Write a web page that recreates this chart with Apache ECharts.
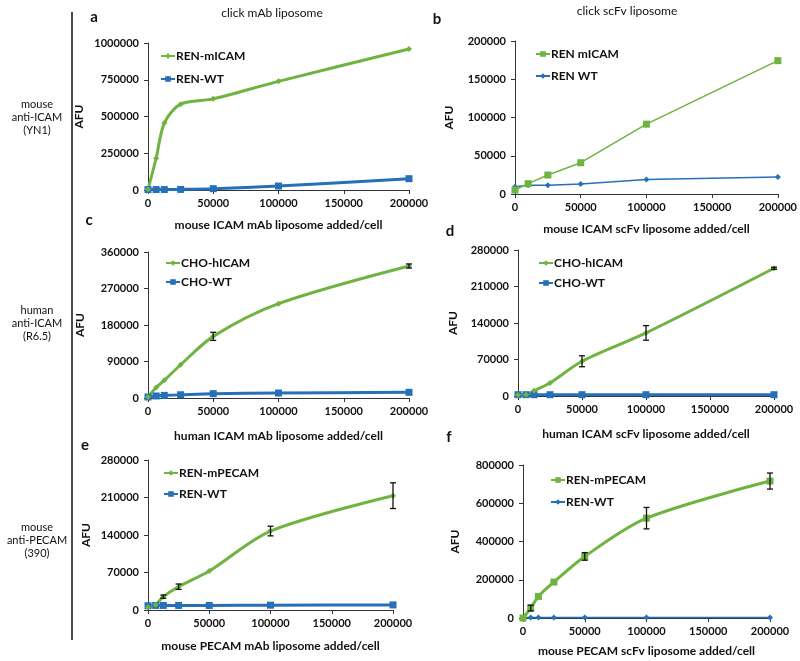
<!DOCTYPE html>
<html>
<head>
<meta charset="utf-8">
<script src="https://cdn.jsdelivr.net/npm/echarts@6/dist/echarts.min.js"></script>
<style>
  html, body { margin: 0; padding: 0; background: #fff; }
  #chart { width: 800px; height: 661px; }
</style>
</head>
<body>
<div id="chart"></div>
<script>
// liposome doses added per cell
const doseB = [0, 10000, 25000, 50000, 100000, 200000]
const doseAll = [0, 6250, 12500, 25000, 50000, 100000, 200000]

// a: click mAb, mouse ICAM
const aGreen = [5000, 216000, 455000, 584000, 620000, 739000, 959000]
const aBlue = [3000, 3000, 3000, 4000, 9000, 27000, 77000]
// b: click scFv, mouse ICAM
const bGreen = [5200, 13500, 24800, 40900, 91300, 174300]
const bBlue = [9600, 11300, 11300, 13000, 19100, 22200]
// c: human ICAM mAb
const cGreen = [2500, 26000, 43500, 82000, 152000, 232600, 325500]
const cGreenErr = [0, 0, 0, 0, 10000, 0, 5000]
const cBlue = [2500, 5000, 6500, 8000, 10700, 12300, 14000]
// d: human ICAM scFv
const dGreen = [2000, 2500, 10000, 25000, 66600, 121000, 245000]
const dGreenErr = [0, 0, 0, 0, 10500, 14000, 2000]
const dBlue = [2500, 2500, 2500, 2500, 2500, 2500, 2500]
// e: mouse PECAM mAb
const eGreen = [5000, 10000, 24900, 43500, 72800, 147400, 213400]
const eGreenErr = [0, 0, 3000, 5000, 0, 9000, 24000]
const eBlue = [8000, 8500, 8500, 8500, 8500, 9000, 9500]
// f: mouse PECAM scFv
const fGreen = [0, 52000, 113000, 188000, 322000, 522000, 716000]
const fGreenErr = [0, 15000, 0, 0, 20000, 56000, 42000]
const fBlue = [2000, 2000, 2000, 2000, 2000, 2000, 2000]

const green = '#6fb340'
const blue = '#2670b8'
const font = 'Lato'

const panels = [
  { key: 'a', x: doseAll, g: aGreen, b: aBlue, gName: 'REN-mICAM', bName: 'REN-WT', gSym: 'diamond', bSym: 'rect', gW: 3, bW: 3, smooth: true,
    grid: [148, 43, 409, 190], yMax: 1000000, yInt: 250000, xName: 'mouse ICAM mAb liposome added/cell', xGap: 29, yGap: 63, leg: [155, 45, 11] },
  { key: 'b', x: doseB, g: bGreen, b: bBlue, gName: 'REN mICAM', bName: 'REN WT', gSym: 'rect', bSym: 'diamond', gW: 1.5, bW: 1.5, smooth: false,
    grid: [515, 41, 779, 194], yMax: 200000, yInt: 50000, xName: 'mouse ICAM scFv liposome added/cell', xGap: 29, yGap: 60, leg: [530, 43, 10] },
  { key: 'c', x: doseAll, g: cGreen, ge: cGreenErr, b: cBlue, gName: 'CHO-hICAM', bName: 'CHO-WT', gSym: 'diamond', bSym: 'rect', gW: 3, bW: 3, smooth: true,
    grid: [148, 252, 409, 398], yMax: 360000, yInt: 90000, xName: 'human ICAM mAb liposome added/cell', xGap: 32, yGap: 62, leg: [160, 252, 7] },
  { key: 'd', x: doseAll, g: dGreen, ge: dGreenErr, b: dBlue, gName: 'CHO-hICAM', bName: 'CHO-WT', gSym: 'diamond', bSym: 'rect', gW: 3, bW: 3, smooth: true,
    grid: [518, 250, 774, 396], yMax: 280000, yInt: 70000, xName: 'human ICAM scFv liposome added/cell', xGap: 32, yGap: 59, leg: [533, 252, 8] },
  { key: 'e', x: doseAll, g: eGreen, ge: eGreenErr, b: eBlue, gName: 'REN-mPECAM', bName: 'REN-WT', gSym: 'diamond', bSym: 'rect', gW: 3, bW: 3, smooth: true,
    grid: [148, 460, 393, 610], yMax: 280000, yInt: 70000, xName: 'mouse PECAM mAb liposome added/cell', xGap: 30, yGap: 56, leg: [158, 462, 9] },
  { key: 'f', x: doseAll, g: fGreen, ge: fGreenErr, b: fBlue, gName: 'REN-mPECAM', bName: 'REN-WT', gSym: 'rect', bSym: 'diamond', gW: 3, bW: 1.5, smooth: true,
    grid: [523, 465, 770, 618], yMax: 800000, yInt: 200000, xName: 'mouse PECAM scFv liposome added/cell', xGap: 27, yGap: 62, leg: [545, 469, 10] }
]

function renderErr(params, api) {
  const x = api.value(0)
  const top = api.coord([x, api.value(2)])
  const bot = api.coord([x, api.value(1)])
  const s = { stroke: '#111', lineWidth: 1.3 }
  return {
    type: 'group',
    children: [
      { type: 'line', shape: { x1: top[0], y1: top[1], x2: bot[0], y2: bot[1] }, style: s },
      { type: 'line', shape: { x1: top[0] - 3, y1: top[1], x2: top[0] + 3, y2: top[1] }, style: s },
      { type: 'line', shape: { x1: bot[0] - 3, y1: bot[1], x2: bot[0] + 3, y2: bot[1] }, style: s }
    ]
  }
}

const axisLine = { lineStyle: { color: '#333', width: 1 } }
const labelStyle = { color: '#111', fontFamily: font, fontWeight: 'bold', fontSize: 11, formatter: v => String(v) }
const nameStyle = { color: '#111', fontFamily: font, fontWeight: 'bold', fontSize: 12 }

const grid = []
const xAxis = []
const yAxis = []
const legend = []
const series = []

panels.forEach((p, i) => {
  // series names carry the panel key so each legend finds its own symbols
  const gKey = p.key + '|' + p.gName
  const bKey = p.key + '|' + p.bName
  grid.push({ left: p.grid[0], top: p.grid[1], width: p.grid[2] - p.grid[0], height: p.grid[3] - p.grid[1] })
  xAxis.push({
    type: 'value', gridIndex: i, min: 0, max: 200000, interval: 50000,
    axisLine: { show: true, ...axisLine }, axisTick: { show: true, length: 4, lineStyle: { color: '#333' } },
    splitLine: { show: false }, axisLabel: { ...labelStyle, margin: 8 },
    name: p.xName, nameLocation: 'middle', nameGap: p.xGap, nameTextStyle: nameStyle
  })
  yAxis.push({
    type: 'value', gridIndex: i, min: 0, max: p.yMax, interval: p.yInt,
    axisLine: { show: true, ...axisLine }, axisTick: { show: true, length: 4, lineStyle: { color: '#333' } },
    splitLine: { show: false }, axisLabel: { ...labelStyle, margin: 9 },
    name: 'AFU', nameLocation: 'middle', nameGap: p.yGap, nameRotate: 90, nameTextStyle: nameStyle
  })
  legend.push({
    orient: 'vertical', left: p.leg[0], top: p.leg[1], itemGap: p.leg[2],
    itemWidth: 14, itemHeight: 7, data: [gKey, bKey],
    formatter: n => n.split('|')[1],
    textStyle: { color: '#111', fontFamily: font, fontWeight: 'bold', fontSize: 12, padding: [0, 0, 0, -4] },
    selectedMode: false
  })
  const gData = p.x.map((v, k) => [v, p.g[k]])
  const bData = p.x.map((v, k) => [v, p.b[k]])
  series.push({
    name: bKey, type: 'line', xAxisIndex: i, yAxisIndex: i, data: bData, smooth: p.smooth ? 0.3 : false,
    symbol: p.bSym, symbolSize: p.bSym === 'rect' ? 7 : 6,
    lineStyle: { color: blue, width: p.bW }, itemStyle: { color: blue }, animation: false
  })
  series.push({
    name: gKey, type: 'line', xAxisIndex: i, yAxisIndex: i, data: gData, smooth: p.smooth ? 0.3 : false,
    symbol: p.gSym, symbolSize: p.gSym === 'rect' ? 7 : 6,
    lineStyle: { color: green, width: p.gW }, itemStyle: { color: green }, animation: false
  })
  if (p.ge) {
    const eData = p.x.map((v, k) => [v, p.g[k] - p.ge[k], p.g[k] + p.ge[k]]).filter((d, k) => p.ge[k] > 0)
    series.push({
      type: 'custom', xAxisIndex: i, yAxisIndex: i, data: eData, renderItem: renderErr,
      encode: { x: 0, y: [1, 2] }, z: 5, animation: false, silent: true
    })
  }
})

const txt = (x, y, text, opts) => ({
  type: 'text', x, y,
  style: { text, fill: '#111', fontFamily: font, fontSize: 11, align: 'center', verticalAlign: 'middle', ...opts }
})

const graphic = [
  { type: 'line', shape: { x1: 72, y1: 12, x2: 72, y2: 640 }, style: { stroke: '#111', lineWidth: 1.5 } },
  txt(272, 13, 'click mAb liposome', { fontSize: 12 }),
  txt(627, 11, 'click scFv liposome', { fontSize: 12 }),
  txt(94, 17, 'a', { fontWeight: 'bold', fontSize: 15 }),
  txt(437, 19, 'b', { fontWeight: 'bold', fontSize: 15 }),
  txt(89, 220, 'c', { fontWeight: 'bold', fontSize: 15 }),
  txt(450, 231, 'd', { fontWeight: 'bold', fontSize: 15 }),
  txt(85, 445, 'e', { fontWeight: 'bold', fontSize: 15 }),
  txt(449, 437, 'f', { fontWeight: 'bold', fontSize: 15 }),
  txt(37, 117, 'mouse\nanti-ICAM\n(YN1)', { lineHeight: 13 }),
  txt(37, 323, 'human\nanti-ICAM\n(R6.5)', { lineHeight: 13 }),
  txt(37, 540, 'mouse\nanti-PECAM\n(390)', { lineHeight: 13 })
]

const chart = echarts.init(document.getElementById('chart'))
chart.setOption({
  animation: false,
  grid, xAxis, yAxis, legend, series, graphic
})
</script>
</body>
</html>
